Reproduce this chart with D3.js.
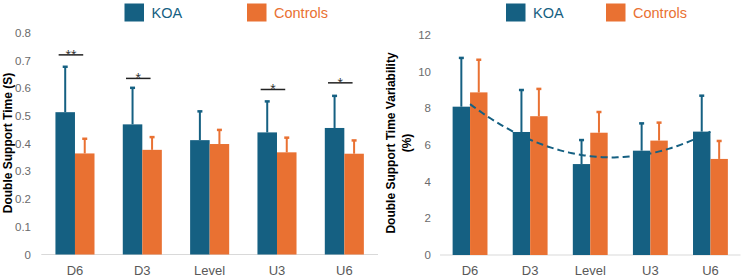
<!DOCTYPE html>
<html>
<head>
<meta charset="utf-8">
<script src="https://cdn.jsdelivr.net/npm/d3@7"></script>
<style>
	body { margin: 0; background: #fff; }
	svg { display: block; font-family: "Liberation Sans", Arial, sans-serif; }
	.tick-label { fill: #6b6b6b; font-size: 11.5px; }
	.cat-label { fill: #595959; font-size: 13px; }
	.axis-title { fill: #000; font-size: 12px; font-weight: bold; }
	.legend-text { font-size: 14.5px; }
</style>
</head>
<body>
<svg id="chart" width="743" height="277"></svg>
<script>
const categories = ["D6", "D3", "Level", "U3", "U6"];

// left panel: double support time (s)
const dstKoa = [0.514, 0.470, 0.413, 0.441, 0.457];
const dstKoaErr = [0.164, 0.132, 0.104, 0.112, 0.116];
const dstCtrl = [0.365, 0.378, 0.399, 0.369, 0.364];
const dstCtrlErr = [0.053, 0.046, 0.051, 0.053, 0.048];
const dstSig = ["**", "*", "", "*", "*"];
const dstSigLevel = [0.721, 0.636, null, 0.596, 0.620];
const dstTicks = [0, 0.1, 0.2, 0.3, 0.4, 0.5, 0.6, 0.7, 0.8];

// right panel: double support time variability (%)
const dstvKoa = [8.09, 6.71, 4.96, 5.69, 6.73];
const dstvKoaErr = [2.66, 2.29, 1.31, 1.49, 1.96];
const dstvCtrl = [8.87, 7.57, 6.67, 6.24, 5.24];
const dstvCtrlErr = [1.78, 1.49, 1.13, 0.98, 0.98];
const dstvTicks = [0, 2, 4, 6, 8, 10, 12];

const seriesNames = ["KOA", "Controls"];
const colors = ["#156082", "#E97132"];

const svg = d3.select("#chart");

function drawPanel(o) {
	const g = svg.append("g");
	const x = d3.scaleBand().domain(categories).range(o.xRange);
	const y = d3.scaleLinear().domain(o.yDomain).range(o.yRange);
	const bw = x.bandwidth() * 0.29;

	// baseline
	g.append("line")
		.attr("x1", o.xRange[0]).attr("x2", o.xRange[1])
		.attr("y1", y(0)).attr("y2", y(0))
		.attr("stroke", "#d9d9d9").attr("stroke-width", 1);

	// y tick labels
	g.selectAll("text.tick-label").data(o.ticks).enter()
		.append("text")
		.attr("class", "tick-label")
		.attr("x", o.tickX)
		.attr("y", d => y(d))
		.attr("dy", "0.35em")
		.attr("text-anchor", "end")
		.text(o.fmt);

	// category labels
	g.selectAll("text.cat-label").data(categories).enter()
		.append("text")
		.attr("class", "cat-label")
		.attr("x", d => x(d) + x.bandwidth() / 2)
		.attr("y", 270)
		.attr("dy", "0.35em")
		.attr("text-anchor", "middle")
		.text(d => d);

	const series = [
		{ vals: o.koa, errs: o.koaErr, color: colors[0], off: -1 },
		{ vals: o.ctrl, errs: o.ctrlErr, color: colors[1], off: 0 },
	];
	series.forEach(s => {
		const rows = categories.map((c, i) => ({ c, v: s.vals[i], e: s.errs[i] }));
		const cx = d => x(d.c) + x.bandwidth() / 2 + s.off * bw;
		g.append("g").selectAll("rect").data(rows).enter()
			.append("rect")
			.attr("x", cx)
			.attr("width", bw)
			.attr("y", d => y(d.v))
			.attr("height", d => y(0) - y(d.v))
			.attr("fill", s.color);
		const eg = g.append("g");
		eg.selectAll("line.err").data(rows).enter()
			.append("line")
			.attr("x1", d => cx(d) + bw / 2).attr("x2", d => cx(d) + bw / 2)
			.attr("y1", d => y(d.v)).attr("y2", d => y(d.v + d.e))
			.attr("stroke", s.color).attr("stroke-width", 2);
		eg.selectAll("line.cap").data(rows).enter()
			.append("line")
			.attr("x1", d => cx(d) + bw / 2 - 2.5).attr("x2", d => cx(d) + bw / 2 + 2.5)
			.attr("y1", d => y(d.v + d.e)).attr("y2", d => y(d.v + d.e))
			.attr("stroke", s.color).attr("stroke-width", 2.5);
	});

	// legend
	const lg = g.append("g");
	seriesNames.forEach((n, i) => {
		const lx = o.legendX[i];
		lg.append("rect").attr("x", lx).attr("y", 3.5).attr("width", 19.5).attr("height", 18)
			.attr("fill", colors[i]);
		lg.append("text").attr("class", "legend-text")
			.attr("x", lx + 27).attr("y", 13).attr("dy", "0.35em")
			.attr("fill", colors[i]).text(n);
	});

	// axis title
	const t = g.append("text")
		.attr("class", "axis-title")
		.attr("transform", `translate(${o.titleX},${o.titleY}) rotate(-90)`)
		.attr("text-anchor", "middle");
	o.title.forEach((line, i) => {
		t.append("tspan").attr("x", 0).attr("dy", i === 0 ? "0.35em" : "1.35em").text(line);
	});

	return { g, x, y, bw };
}

// ----- left panel
const left = drawPanel({
	xRange: [41.3, 378],
	yDomain: [0, 0.8],
	yRange: [254.5, 33],
	ticks: dstTicks,
	fmt: d => d === 0 ? "0" : d3.format(".1f")(d),
	tickX: 31,
	koa: dstKoa, koaErr: dstKoaErr, ctrl: dstCtrl, ctrlErr: dstCtrlErr,
	legendX: [124.5, 247],
	title: ["Double Support Time (S)"],
	titleX: 8, titleY: 143,
});

// significance markers
const sigRows = categories
	.map((c, i) => ({ c, s: dstSig[i], v: dstSigLevel[i] }))
	.filter(d => d.s);
const sigG = left.g.append("g");
const sigW = left.x.bandwidth() * 0.365;
const sigCx = d => left.x(d.c) + left.x.bandwidth() * 0.44;
sigG.selectAll("line").data(sigRows).enter()
	.append("line")
	.attr("x1", d => sigCx(d) - sigW / 2).attr("x2", d => sigCx(d) + sigW / 2)
	.attr("y1", d => left.y(d.v)).attr("y2", d => left.y(d.v))
	.attr("stroke", "#222").attr("stroke-width", 1.5);
sigG.selectAll("text").data(sigRows).enter()
	.append("text")
	.attr("x", sigCx)
	.attr("y", d => left.y(d.v) + 5)
	.attr("text-anchor", "middle")
	.attr("fill", "#333")
	.attr("font-size", 14)
	.text(d => d.s);

// ----- right panel
const right = drawPanel({
	xRange: [440, 740.5],
	yDomain: [0, 12],
	yRange: [255, 35],
	ticks: dstvTicks,
	fmt: d => d,
	tickX: 431,
	koa: dstvKoa, koaErr: dstvKoaErr, ctrl: dstvCtrl, ctrlErr: dstvCtrlErr,
	legendX: [506, 606],
	title: ["Double Support Time Variability", "(%)"],
	titleX: 391, titleY: 143,
});

// polynomial (order 2) trendline fitted to the KOA series
function quadFit(ys) {
	const n = ys.length;
	const xs = ys.map((_, i) => i + 1);
	const s = k => d3.sum(xs, v => Math.pow(v, k));
	const sy = k => d3.sum(xs, (v, i) => Math.pow(v, k) * ys[i]);
	const A = [[n, s(1), s(2)], [s(1), s(2), s(3)], [s(2), s(3), s(4)]];
	const b = [sy(0), sy(1), sy(2)];
	// gaussian elimination
	for (let i = 0; i < 3; i++) {
		for (let j = i + 1; j < 3; j++) {
			const f = A[j][i] / A[i][i];
			for (let k = i; k < 3; k++) A[j][k] -= f * A[i][k];
			b[j] -= f * b[i];
		}
	}
	const c = [0, 0, 0];
	for (let i = 2; i >= 0; i--) {
		let acc = b[i];
		for (let k = i + 1; k < 3; k++) acc -= A[i][k] * c[k];
		c[i] = acc / A[i][i];
	}
	return t => c[0] + c[1] * t + c[2] * t * t;
}

const trend = quadFit(dstvKoa);
const step = right.x.step();
const x0 = right.x(categories[0]) + right.x.bandwidth() / 2;
const trendPts = d3.range(1, categories.length + 0.001, 0.05).map(t => [x0 + (t - 1) * step, right.y(trend(t))]);
right.g.append("path")
	.attr("d", d3.line()(trendPts))
	.attr("fill", "none")
	.attr("stroke", colors[0])
	.attr("stroke-width", 2)
	.attr("stroke-dasharray", "7,4");
</script>
</body>
</html>
